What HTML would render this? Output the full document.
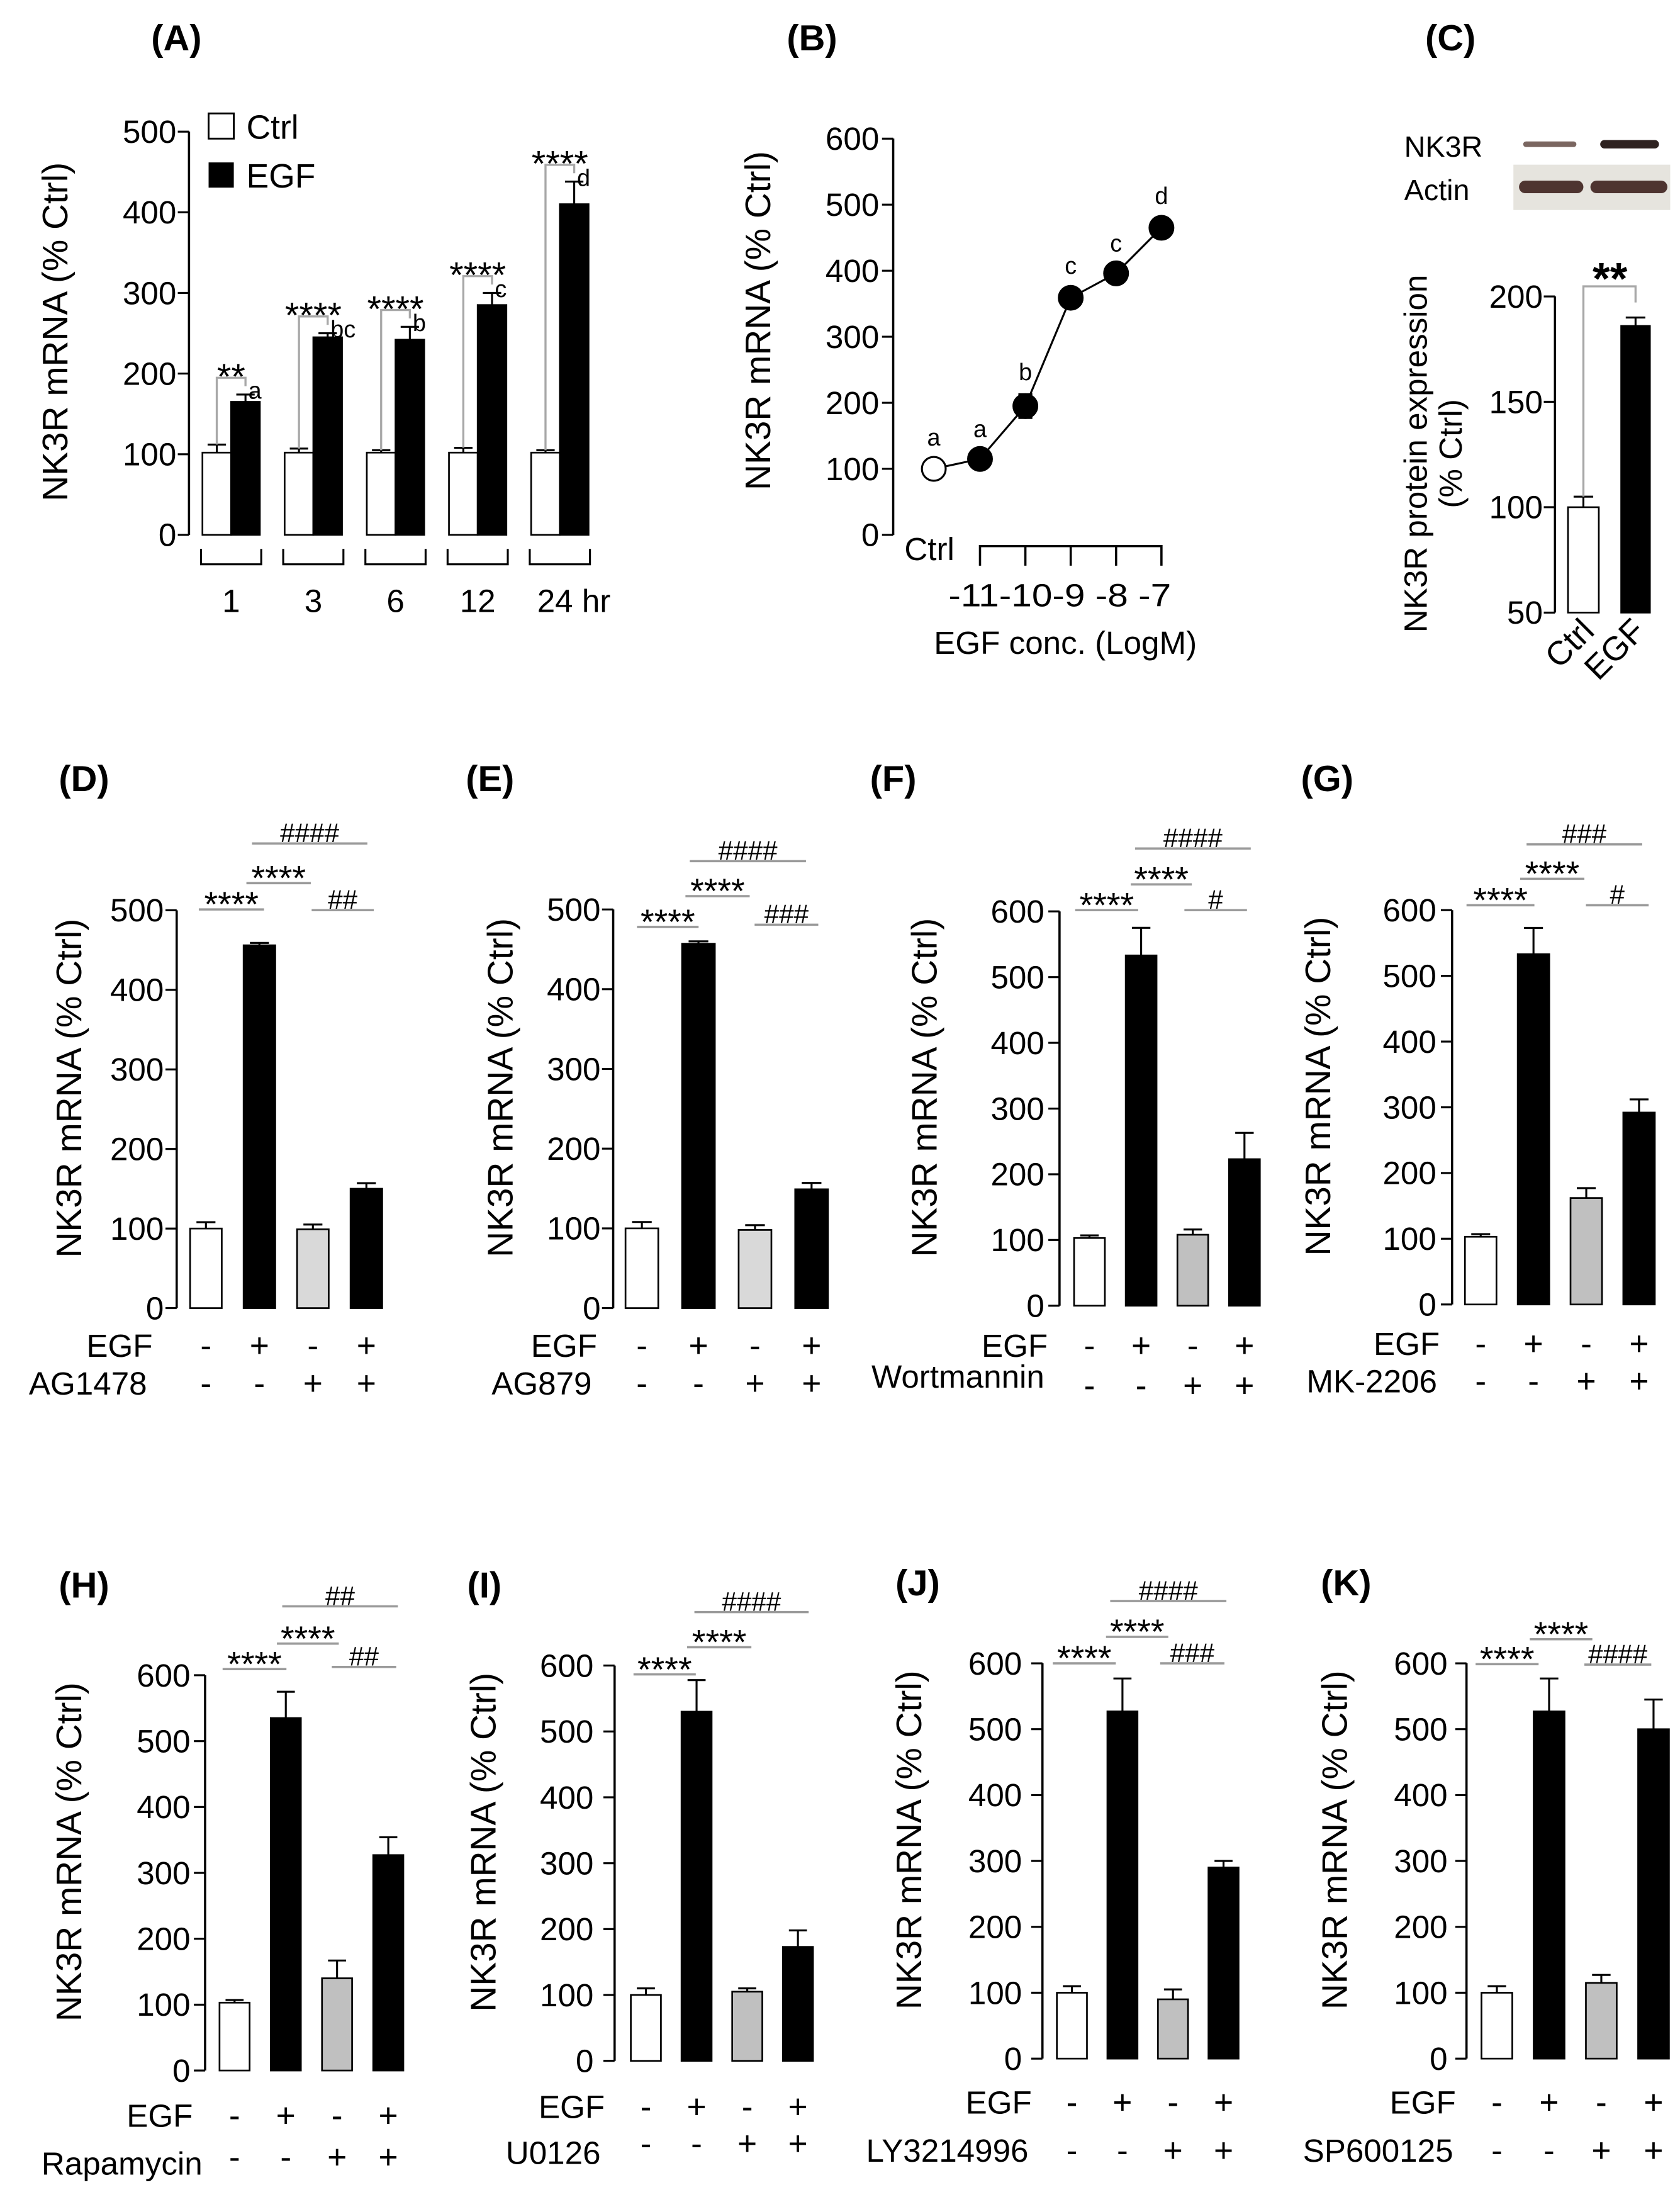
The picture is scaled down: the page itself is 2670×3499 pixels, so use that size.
<!DOCTYPE html>
<html><head><meta charset="utf-8"><style>
html,body{margin:0;padding:0;background:#fff;}
svg{display:block;font-family:"Liberation Sans",Arial,sans-serif;}
</style></head><body>
<svg id="fig" xmlns="http://www.w3.org/2000/svg" width="2670" height="3499" viewBox="0 0 1200 1572.6" preserveAspectRatio="none">
<rect x="0" y="0" width="1200" height="1572.6" fill="#fff"/>
<g>
<text x="1003" y="112" font-size="21">NK3R</text>
<text x="1003" y="143" font-size="21">Actin</text>
<rect x="1081" y="117.6" width="112" height="32.4" fill="#e6e4de"/>
<rect x="1088" y="101" width="38" height="4" rx="2" fill="#7a6660"/>
<rect x="1143" y="100" width="42" height="6" rx="3" fill="#2e2220"/>
<rect x="1085" y="129" width="46" height="9" rx="4.5" fill="#4e3430"/>
<rect x="1136" y="129" width="55" height="9" rx="4.5" fill="#4e3430"/>
</g>
</svg>
<script>
// ---------- DATA ----------
// Panel A
const aTimes = ['1','3','6','12','24 hr'];
const aCtrl = [102,102,102,102,102];
const aCtrlErr = [10,5,3,6,3];
const aEgf = [165,245,242,285,410];
const aEgfErr = [9,5,16,15,28];
const aStars = ['**','****','****','****','****'];
const aLetters = ['a','bc','b','c','d'];
const aTicks = [0,100,200,300,400,500];
// Panel B
const bLabels = ['Ctrl','-11','-10','-9','-8','-7'];
const bVals = [100,115,195,359,396,465];
const bErr = [14,12,18,15,12,15];
const bLetters = ['a','a','b','c','c','d'];
const bTicks = [0,100,200,300,400,500,600];
// Panel C
const cCats = ['Ctrl','EGF'];
const cVals = [100,186];
const cErr = [5,4];
const cTicks = [50,100,150,200];
// Panels D-K
const egfSigns = ['-','+','-','+'];
const inhSigns = ['-','-','+','+'];
const dVals = [100,456,99,150];  const dErr = [8,3,6,7];
const eVals = [100,457,98,149];  const eErr = [8,3,6,8];
const fVals = [103,533,108,223]; const fErr = [4,42,8,40];
const gVals = [103,533,162,292]; const gErr = [4,40,15,20];
const hVals = [103,535,140,327]; const hErr = [4,40,27,27];
const iVals = [100,530,105,173]; const iErr = [10,48,5,25];
const jVals = [100,527,90,290];  const jErr = [10,50,15,10];
const kVals = [100,527,115,500]; const kErr = [10,50,12,45];
const ticks500 = [0,100,200,300,400,500];
const ticks600 = [0,100,200,300,400,500,600];

// ---------- HELPERS ----------
const NS='http://www.w3.org/2000/svg';
const svg=document.getElementById('fig');
function mk(tag, attrs, parent){const e=document.createElementNS(NS,tag);for(const k in attrs)e.setAttribute(k,attrs[k]);(parent||svg).appendChild(e);return e;}
function txt(str, attrs, parent){const e=mk('text',attrs,parent);e.textContent=str;return e;}

function panelLabel(str,x,y){
  const t=txt(str,{x:x,y:y,'font-size':26,'font-weight':'bold','text-anchor':'middle'});
  
  
}
function yTitle(str,x,y,g,fs){
  const t=txt(str,{transform:`translate(${x},${y}) rotate(-90)`,'text-anchor':'middle','font-size':fs||25.5},g);
  
  
}
function yAxis(g,ax,Y,ticks,labX){
  const l=mk('line',{x1:ax,y1:Y(ticks[0]),x2:ax,y2:Y(ticks[ticks.length-1]),stroke:'#000','stroke-width':1.6},g);
  
  
  ticks.forEach(v=>{
    mk('line',{x1:ax-8,y1:Y(v),x2:ax,y2:Y(v),stroke:'#000','stroke-width':1.4},g);
    const t=txt(String(v),{x:labX,y:Y(v)+8,'text-anchor':'end','font-size':23},g);
    
    
  });
}
function sigLine(g,x1,x2,y,label,fs){
  mk('line',{x1:x1,y1:y,x2:x2,y2:y,stroke:'#9a9a9a','stroke-width':1.6},g);
  const t=txt(label,{x:(x1+x2)/2,y:y+(label[0]==='#'?-1:5),'text-anchor':'middle','font-size':fs||24},g);
  
  
}

function barPanel(c, vals, errs){
  const g=mk('g',{});
  
  
  const max=c.ticks[c.ticks.length-1];
  const Y=v=>c.y0-v*(c.y0-c.yTop)/max;
  yAxis(g,c.ax,Y,c.ticks,c.labX);
  const fills=['#fff','#000',c.gray,'#000'];
  vals.forEach((v,i)=>{
    const x=c.x0+i*c.pitch, cx=x+c.bw/2;
    const r=mk('rect',{x:x,y:Y(v),width:c.bw,height:Y(0)-Y(v),fill:fills[i],stroke:'#000','stroke-width':1.2},g);
    
    
    const e=mk('path',{d:`M${cx},${Y(v)}V${Y(v+errs[i])}M${cx-c.bw*0.3},${Y(v+errs[i])}H${cx+c.bw*0.3}`,stroke:'#000','stroke-width':1.4,fill:'none'},g);
    
    
    const s1=txt(egfSigns[i],{x:cx,y:c.r1,'text-anchor':'middle','font-size':24},g);
    
    
    const s2=txt(inhSigns[i],{x:cx,y:c.r2,'text-anchor':'middle','font-size':24},g);
    
    
  });
  const l1=txt('EGF',{x:c.lx1,y:c.r1,'text-anchor':'end','font-size':23},g);
  
  
  const l2=txt(c.inh,{x:c.lx2,y:c.r2l||c.r2,'text-anchor':'end','font-size':23},g);
  
  
  yTitle('NK3R mRNA (% Ctrl)',c.tx,(Y(0)+Y(max))/2-15,g);
  c.sig.forEach(s=>sigLine(g,s[0],s[1],s[2],s[3],s[3][0]==='#'?19:25));
  panelLabel(c.label,c.plx,c.ply);
}

// ---------- PANEL A ----------
(function(){
  const g=mk('g',{});
  
  
  const y0=382, yTop=94, ax=135, x0=144.6, pitch=58.7, bw=20.5;
  const Y=v=>y0-v*(y0-yTop)/500;
  yAxis(g,ax,Y,aTicks,126);
  aTimes.forEach((t,i)=>{
    const xc=x0+i*pitch, xe=xc+bw;
    const r1=mk('rect',{x:xc,y:Y(aCtrl[i]),width:bw,height:Y(0)-Y(aCtrl[i]),fill:'#fff',stroke:'#000','stroke-width':1.2},g);
    
    
    const r2=mk('rect',{x:xe,y:Y(aEgf[i]),width:bw,height:Y(0)-Y(aEgf[i]),fill:'#000',stroke:'#000','stroke-width':1.2},g);
    
    
    [[xc,aCtrl[i],aCtrlErr[i]],[xe,aEgf[i],aEgfErr[i]]].forEach(b=>{
      const cx=b[0]+bw/2;
      mk('path',{d:`M${cx},${Y(b[1])}V${Y(b[1]+b[2])}M${cx-bw*0.32},${Y(b[1]+b[2])}H${cx+bw*0.32}`,stroke:'#000','stroke-width':1.4,fill:'none'},g);
    });
    const by=Y(aEgf[i]+aEgfErr[i])-12;
    const ccx=xc+bw/2, ecx=xe+bw/2;
    const br=mk('path',{d:`M${ccx},${Y(aCtrl[i]+aCtrlErr[i])}V${by}H${ecx}V${by+6}`,stroke:'#a8a8a8','stroke-width':1.5,fill:'none'},g);
    
    
    const st=txt(aStars[i],{x:(ccx+ecx)/2,y:by+8,'text-anchor':'middle','font-size':26},g);
    
    
    const lt=txt(aLetters[i],{x:ecx+2,y:by+15,'font-size':17},g);
    
    
    mk('path',{d:`M${xc-1},392V403H${xe+bw+1}V392`,stroke:'#000','stroke-width':1.4,fill:'none'},g);
    const tl=txt(t,{x:i===4?xc+bw+10:xc+bw,y:437,'text-anchor':'middle','font-size':23},g);
    
    
  });
  const lb1=mk('rect',{x:149,y:81,width:18,height:18,fill:'#fff',stroke:'#000','stroke-width':1.3},g);
  
  
  const lt1=txt('Ctrl',{x:176,y:99,'font-size':24},g);
  
  
  const lb2=mk('rect',{x:149,y:116,width:18,height:18,fill:'#000'},g);
  
  
  const lt2=txt('EGF',{x:176,y:134,'font-size':24},g);
  
  
  yTitle('NK3R mRNA (% Ctrl)',48,237,g);
  panelLabel('(A)',126,36);
})();

// ---------- PANEL B ----------
(function(){
  const g=mk('g',{});
  
  
  const y0=382, yTop=99, ax=638;
  const Y=v=>y0-v*(y0-yTop)/600;
  const X=i=>i===0?667:700+(i-1)*32.4;
  yAxis(g,ax,Y,bTicks,628);
  let d='';
  bVals.forEach((v,i)=>{d+=(i===0?'M':'L')+X(i)+','+Y(v);});
  const ln=mk('path',{d:d,stroke:'#000','stroke-width':1.4,fill:'none'},g);
  
  
  bVals.forEach((v,i)=>{
    const x=X(i);
    mk('path',{d:`M${x},${Y(v-bErr[i])}V${Y(v+bErr[i])}M${x-5},${Y(v+bErr[i])}H${x+5}M${x-5},${Y(v-bErr[i])}H${x+5}`,stroke:'#000','stroke-width':1.4,fill:'none'},g);
    const p=mk('circle',{cx:x,cy:Y(v),r:8.5,fill:i===0?'#fff':'#000',stroke:'#000','stroke-width':1.4},g);
    
    
    const lt=txt(bLetters[i],{x:x,y:Y(v+bErr[i])-10,'text-anchor':'middle','font-size':17},g);
    
    
  });
  let bd=`M${X(1)},404V390H${X(5)}V404`;
  for(let i=2;i<5;i++) bd+=`M${X(i)},390V404`;
  mk('path',{d:bd,stroke:'#000','stroke-width':1.6,fill:'none'},g);
  const cl=txt(bLabels[0],{x:646,y:400,'font-size':23},g);
  
  
  const tl=txt(bLabels.slice(1).join('').replace('-9-8-7','-9 -8 -7'),{x:757,y:433,'text-anchor':'middle','font-size':23,textLength:159,lengthAdjust:'spacingAndGlyphs'},g);
  
  
  const xt=txt('EGF conc. (LogM)',{x:761,y:467,'text-anchor':'middle','font-size':23},g);
  
  
  yTitle('NK3R mRNA (% Ctrl)',550,229,g);
  panelLabel('(B)',580,36);
})();

// ---------- PANEL C ----------
(function(){
  const g=mk('g',{});
  
  
  const ax=1110.7, yb=437.5, yt=211.7;
  const Y=v=>yb-(v-50)*(yb-yt)/150;
  yAxis(g,ax,Y,cTicks,1102);
  const xs=[1120,1158], ws=[22,20.5];
  cVals.forEach((v,i)=>{
    const r=mk('rect',{x:xs[i],y:Y(v),width:ws[i],height:Y(50)-Y(v),fill:i?'#000':'#fff',stroke:'#000','stroke-width':1.2},g);
    
    
    const cx=xs[i]+ws[i]/2;
    mk('path',{d:`M${cx},${Y(v)}V${Y(v+cErr[i])}M${cx-7},${Y(v+cErr[i])}H${cx+7}`,stroke:'#000','stroke-width':1.4,fill:'none'},g);
    const t=txt(cCats[i],{transform:`translate(${xs[i]+ws[i]-2},${452}) rotate(-45)`,'text-anchor':'end','font-size':24},g);
    
    
  });
  const c1=xs[0]+ws[0]/2, c2=xs[1]+ws[1]/2;
  mk('path',{d:`M${c1},${Y(cVals[0]+cErr[0])}V204.5H${c2}V216`,stroke:'#a8a8a8','stroke-width':1.5,fill:'none'},g);
  const st=txt('**',{x:1150,y:210,'text-anchor':'middle','font-size':32,'font-weight':'bold'},g);
  
  
  yTitle('NK3R protein expression',1019,324,g,23);
  yTitle('(% Ctrl)',1044,324,g,23);
  panelLabel('(C)',1036,36);
})();

// ---------- PANELS D-K ----------
barPanel({name:'panel-d-ag1478',label:'(D)',plx:60,ply:565,ax:126.2,y0:934.2,yTop:650.1,ticks:ticks500,labX:117,x0:135.8,pitch:38.2,bw:22.6,gray:'#d9d9d9',r1:969,r2:996,lx1:109,lx2:105,inh:'AG1478',tx:58,
  sig:[[142,188.6,649.5,'****'],[176,222,630.7,'****'],[222.6,267,650,'##'],[180,262.4,602.4,'####']]},dVals,dErr);
barPanel({name:'panel-e-ag879',label:'(E)',plx:350,ply:565,ax:438,y0:934.2,yTop:649.5,ticks:ticks500,labX:429,x0:446.8,pitch:40.4,bw:23.4,gray:'#d9d9d9',r1:969,r2:996,lx1:426.5,lx2:422.7,inh:'AG879',tx:366,
  sig:[[455,499,662,'****'],[489.6,535.5,640,'****'],[539,584.5,660.4,'###'],[492.7,575.7,615,'####']]},eVals,eErr);
barPanel({name:'panel-f-wortmannin',label:'(F)',plx:638,ply:565,ax:756.8,y0:932.5,yTop:650.9,ticks:ticks600,labX:746,x0:767.2,pitch:36.9,bw:22,gray:'#c0c0c0',r1:969,r2:997.6,r2l:991,lx1:748.4,lx2:746,inh:'Wortmannin',tx:669,
  sig:[[768,813,650,'****'],[807.7,851.3,631.6,'****'],[846,890.7,650,'#'],[810.8,893.4,606,'####']]},fVals,fErr);
barPanel({name:'panel-g-mk2206',label:'(G)',plx:948,ply:565,ax:1037.2,y0:931.6,yTop:650,ticks:ticks600,labX:1026,x0:1046.4,pitch:37.7,bw:22.5,gray:'#c0c0c0',r1:967.7,r2:994.4,lx1:1028.4,lx2:1026.5,inh:'MK-2206',tx:950,
  sig:[[1047.5,1096,646.5,'****'],[1085.8,1131.7,627.6,'****'],[1132.8,1177.6,646.5,'#'],[1090.4,1173,603,'###']]},gVals,gErr);
barPanel({name:'panel-h-rapamycin',label:'(H)',plx:60,ply:1141,ax:146.5,y0:1478.7,yTop:1196.4,ticks:ticks600,labX:136,x0:156.8,pitch:36.6,bw:21.5,gray:'#c0c0c0',r1:1518.8,r2:1548.6,r2l:1553,lx1:137.7,lx2:144.6,inh:'Rapamycin',tx:58,
  sig:[[159,204.6,1192,'****'],[197.8,242,1173.8,'****'],[237,283,1190.5,'##'],[201.6,284.2,1147.2,'##']]},hVals,hErr);
barPanel({name:'panel-i-u0126',label:'(I)',plx:346,ply:1141,ax:439,y0:1471.8,yTop:1189.5,ticks:ticks600,labX:424,x0:450.6,pitch:36.2,bw:21.5,gray:'#c0c0c0',r1:1512.5,r2:1539,r2l:1545.4,lx1:432,lx2:429,inh:'U0126',tx:354,
  sig:[[452.5,497,1195.8,'****'],[490.8,536.7,1176.4,'****'],[496,577.6,1151.3,'####']]},iVals,iErr);
barPanel({name:'panel-j-ly3214996',label:'(J)',plx:655.5,ply:1139.4,ax:744.6,y0:1470.2,yTop:1187.9,ticks:ticks600,labX:730,x0:754.9,pitch:36.1,bw:21.5,gray:'#c0c0c0',r1:1509.4,r2:1543.8,lx1:737,lx2:734.6,inh:'LY3214996',tx:658,
  sig:[[752,797,1187.9,'****'],[790,834.5,1169,'****'],[828.7,874.6,1187.9,'###'],[793,876,1143.4,'####']]},jVals,jErr);
barPanel({name:'panel-k-sp600125',label:'(K)',plx:961.5,ply:1139.4,ax:1047.5,y0:1470.2,yTop:1187.9,ticks:ticks600,labX:1034,x0:1058.2,pitch:37.3,bw:22,gray:'#c0c0c0',r1:1509.4,r2:1543.8,lx1:1039.9,lx2:1038,inh:'SP600125',tx:962,
  sig:[[1054,1099,1188.5,'****'],[1092.7,1137.4,1170.7,'****'],[1131.7,1179.5,1188.8,'####']]},kVals,kErr);
</script>
</body></html>
